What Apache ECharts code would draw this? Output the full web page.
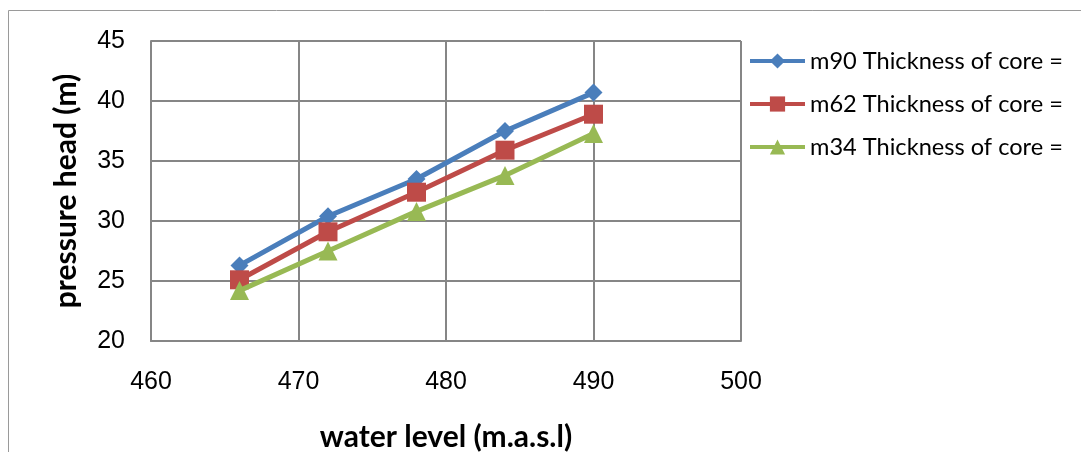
<!DOCTYPE html>
<html>
<head>
<meta charset="utf-8">
<script src="https://cdn.jsdelivr.net/npm/echarts@6/dist/echarts.min.js"></script>
<style>
html,body{margin:0;padding:0;background:#fff;}
#chart{width:1081px;height:452px;}
</style>
</head>
<body>
<div id="chart"></div>
<script>
// water level (m.a.s.l)
const waterLevel = [466, 472, 478, 484, 490];
// pressure head (m) for each core thickness
const core90 = [26.3, 30.4, 33.5, 37.5, 40.7];
const core62 = [25.1, 29.1, 32.4, 35.9, 38.9];
const core34 = [24.2, 27.5, 30.8, 33.8, 37.3];
const seriesNames = ['m90 Thickness of core =', 'm62 Thickness of core =', 'm34 Thickness of core ='];
const colors = ['#4a7ebb', '#be4b48', '#98b954'];
const symbols = ['diamond', 'rect', 'triangle'];
const symbolSizes = [18, 19, 19];

const pairs = arr => waterLevel.map((x, i) => [x, arr[i]]);
const values = [core90, core62, core34];

const chart = echarts.init(document.getElementById('chart'));
const gridColor = '#868686';
const tickFont = '"Liberation Sans", Arial, sans-serif';
const textFont = 'Lato, "Open Sans", sans-serif';

chart.setOption({
  animation: false,
  backgroundColor: '#fff',
  grid: { left: 151, top: 41, width: 590, height: 300, containLabel: false, outerBoundsMode: 'none' },
  legend: {
    orient: 'vertical',
    left: 743,
    top: 44,
    itemWidth: 55,
    itemHeight: 19,
    itemGap: 19,
    lineStyle: { width: 4 },
    textStyle: { fontFamily: textFont, fontSize: 23.6, color: '#000', lineHeight: 24 },
    data: seriesNames
  },
  xAxis: {
    type: 'value',
    min: 460, max: 500, interval: 10,
    axisLine: { show: true, lineStyle: { color: gridColor, width: 2 } },
    axisTick: { show: false },
    splitLine: { show: true, lineStyle: { color: gridColor, width: 2 } },
    axisLabel: { margin: 29, fontFamily: tickFont, fontSize: 25, color: '#000' },
    name: 'water level (m.a.s.l)',
    nameLocation: 'middle',
    nameGap: 81,
    nameTextStyle: { fontFamily: textFont, fontWeight: 'bold', fontSize: 30, color: '#000' }
  },
  yAxis: {
    type: 'value',
    min: 20, max: 45, interval: 5,
    axisLine: { show: true, lineStyle: { color: gridColor, width: 2 } },
    axisTick: { show: false },
    splitLine: { show: true, lineStyle: { color: gridColor, width: 2 } },
    axisLabel: { margin: 26, fontFamily: tickFont, fontSize: 25, color: '#000' },
    name: 'pressure head (m)',
    nameLocation: 'middle',
    nameGap: 70,
    nameRotate: 90,
    nameTextStyle: { fontFamily: textFont, fontWeight: 'bold', fontSize: 30, color: '#000' }
  },
  graphic: [
    { type: 'line', shape: { x1: 8.5, y1: 10.5, x2: 1081, y2: 10.5 }, style: { stroke: '#9a9a9a', lineWidth: 1 } },
    { type: 'line', shape: { x1: 8.5, y1: 10.5, x2: 8.5, y2: 452 }, style: { stroke: '#9a9a9a', lineWidth: 1 } },
    { type: 'line', shape: { x1: 741, y1: 41, x2: 741, y2: 341 }, style: { stroke: gridColor, lineWidth: 2 } }
  ],
  series: seriesNames.map((name, k) => ({
    name,
    type: 'line',
    data: pairs(values[k]),
    color: colors[k],
    symbol: symbols[k],
    symbolSize: symbolSizes[k],
    lineStyle: { width: 5, color: colors[k] },
    itemStyle: { color: colors[k] },
    z: 2 + k
  }))
});
</script>
</body>
</html>
